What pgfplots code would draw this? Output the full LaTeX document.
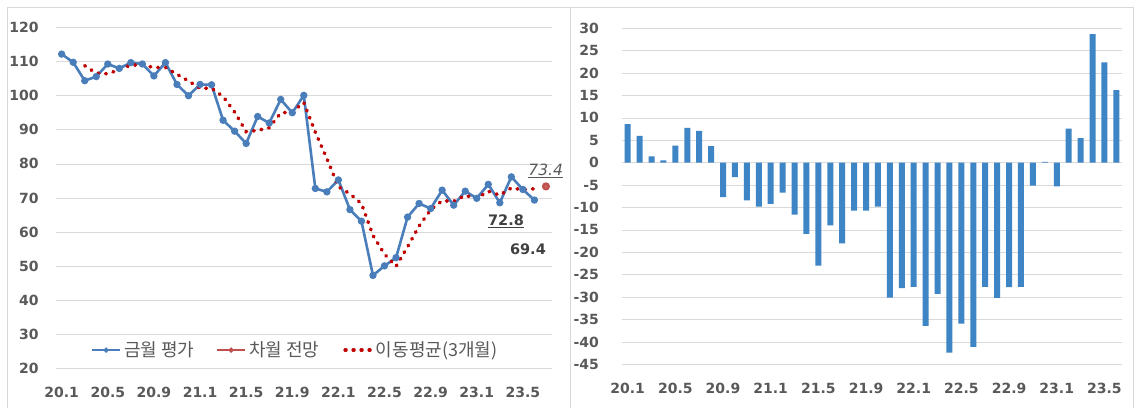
\documentclass[border=0pt]{standalone}
\usepackage{fontspec}
\setmainfont{DejaVu Sans}
\newfontfamily\kr{Noto Sans CJK KR}
\usepackage{pgfplots}
\pgfplotsset{compat=1.18}
\definecolor{gridc}{HTML}{D9D9D9}
\definecolor{framec}{HTML}{D9D9D9}
\definecolor{textgray}{HTML}{595959}
\definecolor{labgray}{HTML}{404040}
\definecolor{blueline}{HTML}{4A7EBB}
\definecolor{barblue}{HTML}{3E85C6}
\definecolor{reddot}{HTML}{C00000}
\definecolor{redfc}{HTML}{C0504D}
\definecolor{redmk}{HTML}{D46A6A}
\begin{document}
\begin{tikzpicture}[x=1pt,y=1pt]
\useasboundingbox (0,0) rectangle (1135,408);
\fill[white] (0,0) rectangle (1135,408);
\draw[framec, line width=0.8pt] (7.5,0) -- (7.5,400.5) -- (1133.5,400.5) -- (1133.5,0);
\draw[framec, line width=0.8pt] (570,0) -- (570,400.5);

\pgfplotsset{
  common/.style={
    scale only axis, anchor=south west,
    axis line style={draw=none}, major tick length=0pt, tick style={draw=none},
    ymajorgrids, grid style={gridc, line width=0.8pt},
    tick label style={font=\fontsize{14}{16}\selectfont\bfseries, text=textgray},
    /pgf/number format/assume math mode=true,
    xtick={1,5,9,13,17,21,25,29,33,37,41},
    xticklabels={20.1,20.5,20.9,21.1,21.5,21.9,22.1,22.5,22.9,23.1,23.5},
    clip=false,
  }
}

\begin{axis}[common,
  at={(55.9pt,39.5pt)}, width=495.8pt, height=341pt,
  xmin=0.5, xmax=43.5, ymin=20, ymax=120, ytick={20,30,...,120},
  yticklabel style={anchor=east, inner sep=0pt, xshift=-17pt},
  xticklabel style={anchor=north, inner sep=0pt, yshift=-18.5pt},
  legend style={at={(0.484,0.054)}, anchor=center, draw=none, fill=none,
    legend columns=3, font=\kr\fontsize{18}{20}\selectfont, text=textgray,
    nodes={inner xsep=3pt, inner ysep=1pt},
    /tikz/every even column/.append style={column sep=19pt}},
  legend image code/.code={\draw[mark repeat=2,mark phase=2,#1] plot coordinates {(0pt,0pt) (14pt,0pt) (28pt,0pt)};},
]
\addlegendimage{color=blueline, line width=1.8pt, mark=*, mark size=1.6pt, mark options={fill=blueline, draw=none, solid}}
\addlegendentry{금월 평가}
\addlegendimage{color=redfc, line width=1.8pt, mark=*, mark size=1.6pt, mark options={fill=redfc, draw=none, solid}}
\addlegendentry{차월 전망}
\addlegendimage{color=reddot, line width=3.6pt, line cap=round, dash pattern=on 0.8pt off 7.2pt, dash phase=-2pt}
\addlegendentry{이동평균(3개월)}

\addplot[forget plot, color=blueline, line width=2.6pt, mark=*, mark size=2.3pt,
  mark options={fill=blueline, draw=none, solid}]
  coordinates {
  (1,112.2) (2,109.8) (3,104.4) (4,105.6) (5,109.3) (6,108.0) (7,109.7) (8,109.3)
  (9,105.8) (10,109.7) (11,103.3) (12,100.0) (13,103.3) (14,103.2) (15,92.8) (16,89.6)
  (17,86.0) (18,93.9) (19,92.0) (20,98.9) (21,95.0) (22,100.1) (23,72.8) (24,71.8)
  (25,75.3) (26,66.6) (27,63.2) (28,47.3) (29,50.1) (30,52.5) (31,64.4) (32,68.4)
  (33,66.9) (34,72.3) (35,67.9) (36,72.0) (37,69.9) (38,74.0) (39,68.6) (40,76.2)
  (41,72.5) (42,69.4)
  };
\addplot[forget plot, color=redfc, line width=2.6pt, mark=*, mark size=2.7pt,
  mark options={fill=redmk, draw=none, solid}]
  coordinates {(43,73.4)};
\addplot[forget plot, color=reddot, line width=3.6pt, line cap=round, dash pattern=on 0.8pt off 6.9pt]
  coordinates {
  (3,108.80) (4,106.60) (5,106.43) (6,107.63) (7,109.00) (8,109.00) (9,108.27) (10,108.27)
  (11,106.27) (12,104.33) (13,102.20) (14,102.17) (15,99.77) (16,95.20) (17,89.47) (18,89.83)
  (19,90.63) (20,94.93) (21,95.30) (22,98.00) (23,89.30) (24,81.57) (25,73.30) (26,71.23)
  (27,68.37) (28,59.03) (29,53.53) (30,49.97) (31,55.67) (32,61.77) (33,66.57) (34,69.20)
  (35,69.03) (36,70.73) (37,69.93) (38,71.97) (39,70.83) (40,72.93) (41,72.43) (42,72.70)
  };
\node[font=\fontsize{15.5}{17}\selectfont\itshape, text=textgray] at (axis cs:42.98,77.9) {\underline{73.4}};
\node[font=\fontsize{14.5}{16}\selectfont\bfseries, text=labgray] at (axis cs:39.54,63.05) {\underline{72.8}};
\node[font=\fontsize{14.5}{16}\selectfont\bfseries, text=labgray] at (axis cs:41.44,55.0) {69.4};
\end{axis}

\begin{axis}[common,
  at={(621.7pt,43.7pt)}, width=500.6pt, height=336pt,
  xmin=0.5, xmax=42.5, ymin=-45, ymax=30, ytick={-45,-40,...,30},
  yticklabel style={anchor=east, inner sep=0pt, xshift=-22.7pt},
  xticklabel style={anchor=north, inner sep=0pt, yshift=-19pt},
]
\addplot[ybar, bar width=6pt, fill=barblue, draw=none]
  coordinates {
  (1,8.6) (2,6.0) (3,1.4) (4,0.5) (5,3.8) (6,7.8) (7,7.1) (8,3.7)
  (9,-7.7) (10,-3.2) (11,-8.4) (12,-9.8) (13,-9.2) (14,-6.7) (15,-11.6) (16,-15.9)
  (17,-23.0) (18,-14.0) (19,-18.0) (20,-10.7) (21,-10.7) (22,-9.8) (23,-30.1) (24,-28.0)
  (25,-27.7) (26,-36.4) (27,-29.3) (28,-42.4) (29,-35.9) (30,-41.1) (31,-27.7) (32,-30.2)
  (33,-27.8) (34,-27.7) (35,-5.1) (36,0.2) (37,-5.3) (38,7.6) (39,5.5) (40,28.7)
  (41,22.4) (42,16.2)
  };
\end{axis}
\end{tikzpicture}
\end{document}
